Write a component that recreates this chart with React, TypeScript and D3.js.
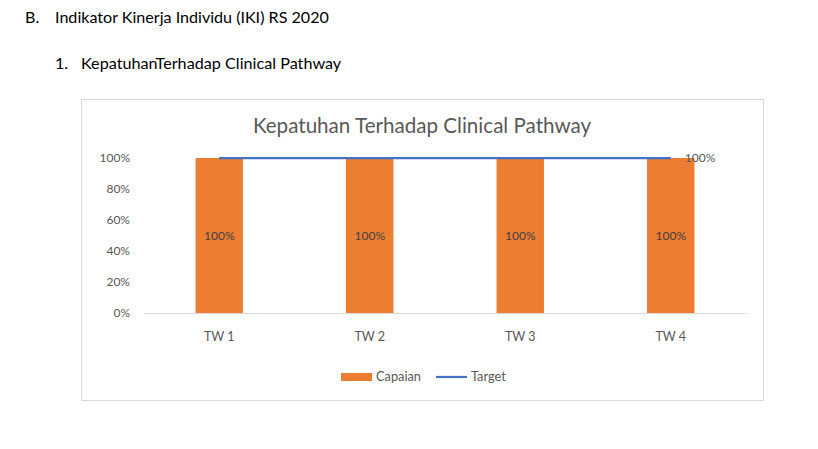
import React from "react";
import * as d3 from "d3";

const categories = ["TW 1", "TW 2", "TW 3", "TW 4"];
const capaian = [1, 1, 1, 1];
const target = [1, 1, 1, 1];
const yTicks = [0, 0.2, 0.4, 0.6, 0.8, 1];

const W = 818, H = 449;
const FONT = "Lato, Calibri, sans-serif";
const box = { x: 81.5, y: 99.5, w: 682, h: 301 };
const plot = { left: 144, right: 746, top: 158, bottom: 313 };

export default function App() {
  const x = d3.scaleBand().domain(categories).range([plot.left, plot.right]).paddingInner(0.685).paddingOuter(0.3425);
  const y = d3.scaleLinear().domain([0, 1]).range([plot.bottom, plot.top]);
  const pct = d3.format(".0%");
  const cx = (c: string) => (x(c) as number) + x.bandwidth() / 2;
  const line = d3.line<number>().x((_, i) => cx(categories[i])).y((d) => y(d));
  return (
    <svg width={W} height={H} style={{ position: "absolute", left: 0, top: 0 }}>
      <rect width={W} height={H} fill="#fff" />
      <text x={25} y={23} fontFamily={FONT} fontSize={16.1} fill="#000">B.</text>
      <text x={55} y={23} fontFamily={FONT} fontSize={16.1} fill="#000">Indikator Kinerja Individu (IKI) RS 2020</text>
      <text x={55} y={69} fontFamily={FONT} fontSize={16.1} fill="#000">1.</text>
      <text x={81} y={69} fontFamily={FONT} fontSize={16.2} fill="#000">KepatuhanTerhadap Clinical Pathway</text>
      <rect x={box.x} y={box.y} width={box.w} height={box.h} fill="#fff" stroke="#d9d9d9" />
      <text x={422} y={133} textAnchor="middle" fontFamily={FONT} fontSize={20.6} fill="#595959">Kepatuhan Terhadap Clinical Pathway</text>
      {yTicks.map((t) => (
        <text key={t} x={130} y={y(t) + 4} textAnchor="end" fontFamily={FONT} fontSize={12} fill="#595959">{pct(t)}</text>
      ))}
      <line x1={plot.left} x2={plot.right} y1={plot.bottom + 0.5} y2={plot.bottom + 0.5} stroke="#d9d9d9" />
      {categories.map((c, i) => (
        <g key={c}>
          <rect x={x(c)} y={y(capaian[i])} width={x.bandwidth()} height={y(0) - y(capaian[i])} fill="#ed7d31" />
          <text x={cx(c)} y={(y(0) + y(capaian[i])) / 2 + 4} textAnchor="middle" fontFamily={FONT} fontSize={12} fill="#404040">{pct(capaian[i])}</text>
          <text x={cx(c)} y={341} textAnchor="middle" fontFamily={FONT} fontSize={12.5} fill="#595959">{c}</text>
        </g>
      ))}
      <path d={line(target) as string} fill="none" stroke="#4472c4" strokeWidth={2.25} />
      <text x={cx(categories[3]) + 14} y={y(target[3]) + 4} fontFamily={FONT} fontSize={12} fill="#595959">{pct(target[3])}</text>
      <rect x={341} y={373} width={31} height={8} fill="#ed7d31" />
      <text x={376} y={381} fontFamily={FONT} fontSize={12.8} fill="#595959">Capaian</text>
      <line x1={436} x2={467} y1={377} y2={377} stroke="#4472c4" strokeWidth={2.25} />
      <text x={471} y={381} fontFamily={FONT} fontSize={12.8} fill="#595959">Target</text>
    </svg>
  );
}
